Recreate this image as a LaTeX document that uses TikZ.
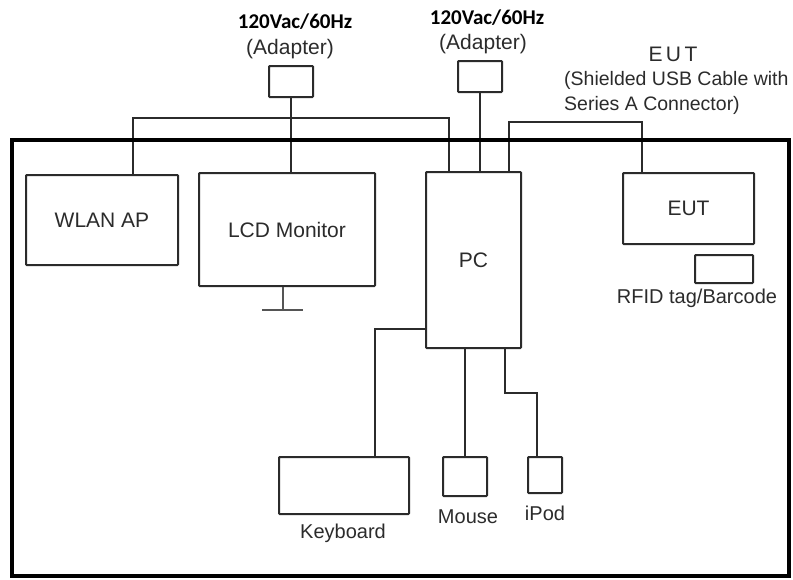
\documentclass[tikz,border=0pt]{standalone}
\usepackage{fontspec}
\setmainfont{Liberation Sans}
\newfontfamily\calfont{Carlito}
\definecolor{ink}{HTML}{2B2B2B}
\begin{document}
\begin{tikzpicture}[x=1pt,y=-1pt,
  box/.style={draw=ink, line width=2pt, rounded corners=0.8pt, inner sep=0pt,
    text=ink, font=\fontsize{21}{25}\selectfont},
  wire/.style={draw=ink, line width=2pt},
  standline/.style={draw=ink!80, line width=2.6pt},
  lbl/.style={text=ink, inner sep=0pt, font=\fontsize{20}{24}\selectfont},
  pwr/.style={text=black, inner sep=0pt, font=\calfont\bfseries\fontsize{21}{25}\selectfont}]
\useasboundingbox (0,0) rectangle (793,579);

% boxes
\node[box, minimum width=152pt, minimum height=90pt] (wlan) at (102,220) {WLAN AP};
\node[box, minimum width=176pt, minimum height=113pt] (lcd) at (287,229.5) {LCD Monitor};
\node[box, minimum width=95pt, minimum height=176pt] (pc) at (473.5,260) {PC};
\node[box, minimum width=131pt, minimum height=71pt] (eut) at (688.5,208.5) {EUT};
\node[box, minimum width=58pt, minimum height=28pt] (rfid) at (724,269) {};
\node[box, minimum width=130pt, minimum height=57pt] (kb) at (344,485.5) {};
\node[box, minimum width=44pt, minimum height=39pt] (mouse) at (465,476.5) {};
\node[box, minimum width=34pt, minimum height=36pt] (ipod) at (545,475) {};
\node[box, minimum width=44pt, minimum height=31pt] (ad1) at (291,81.5) {};
\node[box, minimum width=44pt, minimum height=31pt] (ad2) at (480,76.5) {};

% labels
\node[pwr] (p1) at (295,22) {120Vac/60Hz};
\node[lbl, font=\fontsize{21}{25}\selectfont] (a1) at (290,49) {(Adapter)};
\node[pwr] (p2) at (487,18) {120Vac/60Hz};
\node[lbl, font=\fontsize{21}{25}\selectfont] (a2) at (483,44) {(Adapter)};
\node[lbl, font=\fontsize{21}{25}\selectfont] (eutt) at (673,54) {E\,U\,T};
\node[lbl, font=\fontsize{19.5}{24}\selectfont, anchor=west] (c1) at (564,80) {(Shielded USB Cable with};
\node[lbl, font=\fontsize{19.5}{24}\selectfont, anchor=west] (c2) at (564,105) {Series A Connector)};
\node[lbl] (rfidl) at (697,298) {RFID tag/Barcode};
\node[lbl] (kbl) at (343,533) {Keyboard};
\node[lbl] (mousel) at (468,517) {Mouse};
\node[lbl] (ipodl) at (545,513) {iPod};

% junction points
\coordinate (j1) at (133,118);
\coordinate (j2) at (449,118);
\coordinate (j3) at (509,122);
\coordinate (j4) at (642,122);
\coordinate (j5) at (375,329);
\coordinate (j6) at (505,393);
\coordinate (j7) at (537,393);
\coordinate (st) at (283,310);
\coordinate (st1) at (262,310);
\coordinate (st2) at (303,310);

% connectors
\draw[wire] (wlan.north -| j1) -- (j1) -- (j2) -- (pc.north -| j2);
\draw[wire] (ad1.south) -- (ad1.south |- lcd.north);
\draw[wire] (ad2.south) -- (ad2.south |- pc.north);
\draw[wire] (pc.north -| j3) -- (j3) -- (j4) -- (eut.north -| j4);
\draw[wire] (pc.west |- j5) -- (j5) -- (kb.north -| j5);
\draw[wire] (mouse.north) -- (mouse.north |- pc.south);
\draw[wire] (pc.south -| j6) -- (j6) -- (j7) -- (ipod.north -| j7);

% monitor stand
\draw[standline] (lcd.south -| st) -- (st);
\draw[standline] (st1) -- (st2);

% outer frame
\draw[line width=4pt, black] (12,140) rectangle (789,576);
\end{tikzpicture}
\end{document}
